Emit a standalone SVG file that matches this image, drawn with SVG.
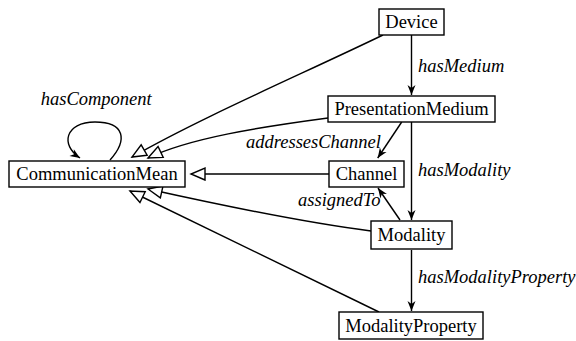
<svg xmlns="http://www.w3.org/2000/svg" width="576" height="341" viewBox="0 0 576 341">
<style>
.box{fill:#fff;stroke:#000;stroke-width:1.4}
text{font-family:'Liberation Serif','DejaVu Serif',serif;font-size:18.5px;fill:#000}
.nl{text-anchor:middle}
.el{font-style:italic}
.e{fill:none;stroke:#000;stroke-width:1.4}
.a{marker-end:url(#vee)}
.g{marker-end:url(#tri)}
</style>
<defs>
<marker id="vee" markerUnits="userSpaceOnUse" markerWidth="12" markerHeight="10" refX="10" refY="4" orient="auto" overflow="visible">
<path d="M0,0 L10,4 L0,8 L3,4 z" fill="#000"/>
</marker>
<marker id="tri" markerUnits="userSpaceOnUse" markerWidth="16" markerHeight="14" refX="14" refY="6" orient="auto" overflow="visible">
<path d="M0,0 L14,6 L0,12 z" fill="#fff" stroke="#000" stroke-width="1.4"/>
</marker>
</defs>
<g id="connectors">
<path class="e a" d="M411.5,35 L411.5,95"/>
<path class="e a" d="M411.5,122 L411.5,220"/>
<path class="e a" d="M411.5,250 L411.5,311"/>
<path class="e a" d="M401.7,122 L377.7,158"/>
<path class="e a" d="M400,220 L378,188"/>
<path class="e a" d="M110,160 C128,140 125,122 95,122 C65,122 60,145 80,158"/>
<path class="e g" d="M329,174 L191,174"/>
<path class="e g" d="M383,35 C300,75 200,118 132,157"/>
<path class="e g" d="M328,118 C260,127 190,138 148,158"/>
<path class="e g" d="M371,231 C300,222 220,205 148,189"/>
<path class="e g" d="M379,312 L130,191"/>
<text class="el" x="40.7" y="105" font-family="Liberation Serif, serif">hasComponent</text>
<text class="el" x="418" y="72" font-family="Liberation Serif, serif">hasMedium</text>
<text class="el" x="246" y="148" font-family="Liberation Serif, serif">addressesChannel</text>
<text class="el" x="418" y="176" font-family="Liberation Serif, serif">hasModality</text>
<text class="el" x="298" y="206" font-family="Liberation Serif, serif">assignedTo</text>
<text class="el" x="418" y="283" font-family="Liberation Serif, serif">hasModalityProperty</text>
</g>
<g id="Device"><rect class="box" x="379" y="9" width="65" height="26"/><text class="nl" x="411.5" y="28" font-family="Liberation Serif, serif">Device</text></g>
<g id="PresentationMedium"><rect class="box" x="328" y="96" width="167" height="26"/><text class="nl" x="411.5" y="115" font-family="Liberation Serif, serif">PresentationMedium</text></g>
<g id="Channel"><rect class="box" x="329" y="161" width="75" height="26"/><text class="nl" x="366.5" y="180" font-family="Liberation Serif, serif">Channel</text></g>
<g id="CommunicationMean"><rect class="box" x="9" y="161" width="176" height="26"/><text class="nl" x="97" y="180" font-family="Liberation Serif, serif">CommunicationMean</text></g>
<g id="Modality"><rect class="box" x="371" y="221" width="81" height="28"/><text class="nl" x="411.5" y="241" font-family="Liberation Serif, serif">Modality</text></g>
<g id="ModalityProperty"><rect class="box" x="339" y="312" width="144" height="27"/><text class="nl" x="411" y="332" font-family="Liberation Serif, serif">ModalityProperty</text></g>
</svg>
